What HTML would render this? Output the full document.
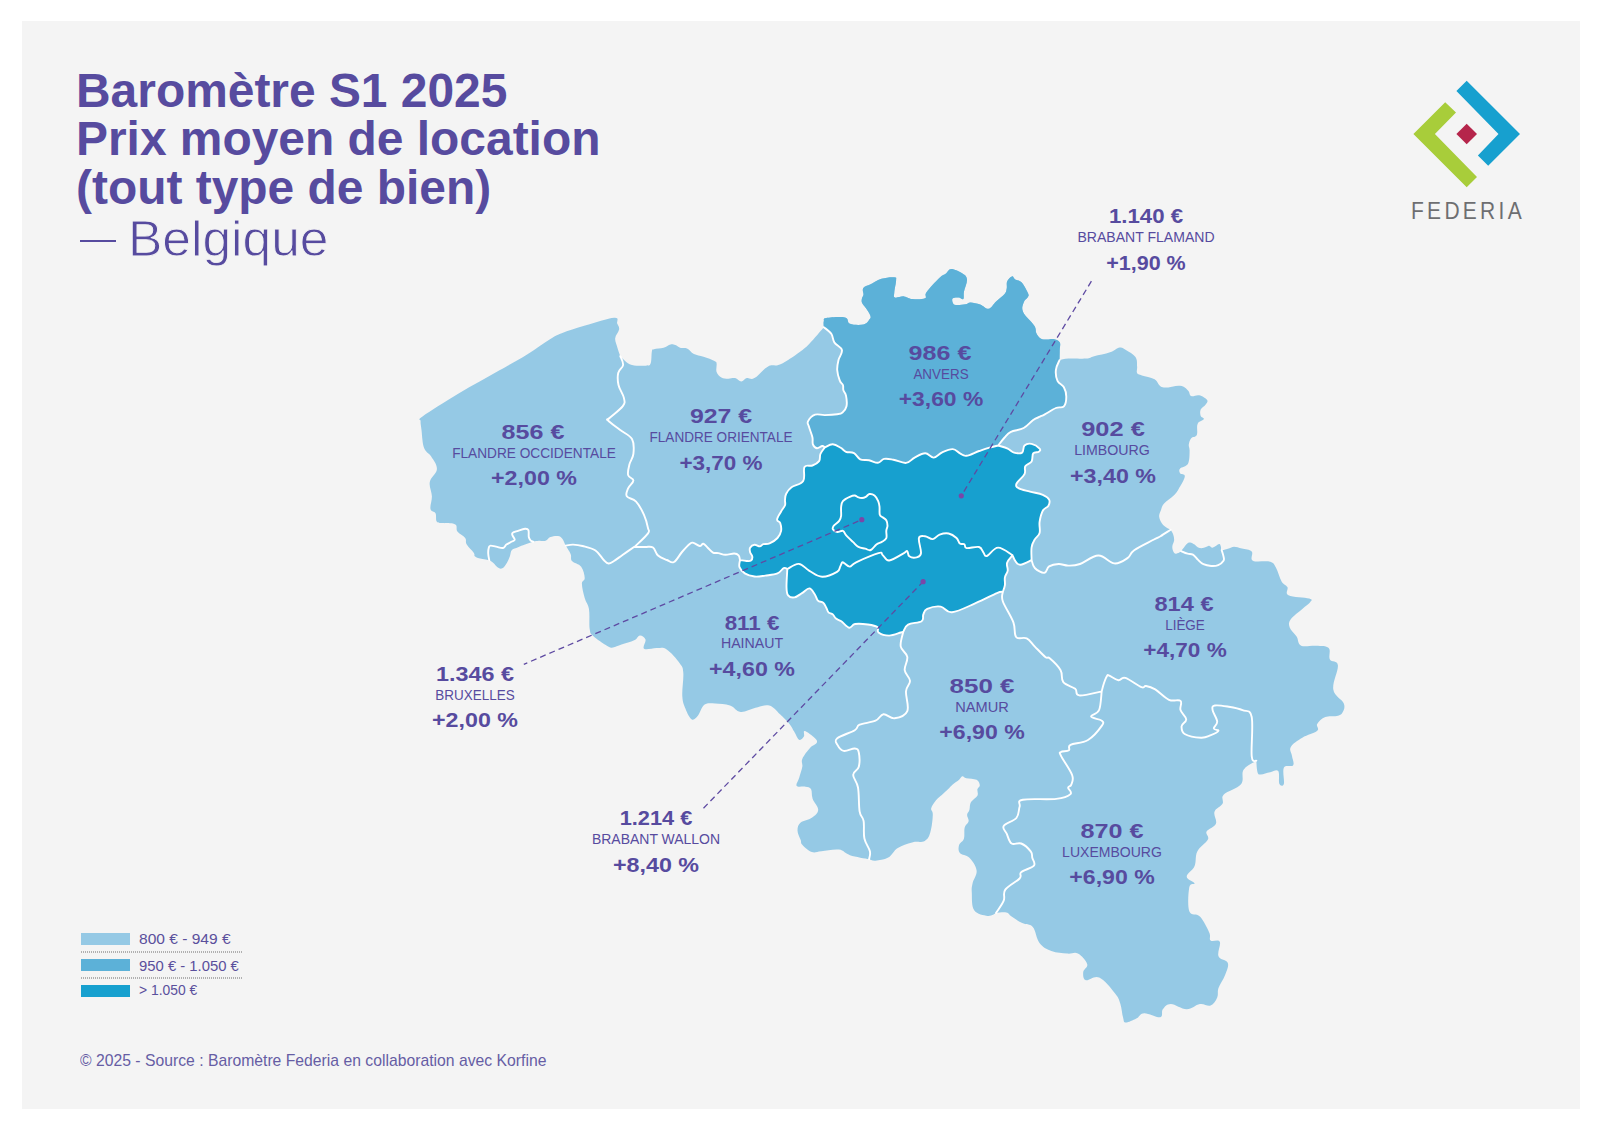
<!DOCTYPE html>
<html><head><meta charset="utf-8">
<style>
html,body{margin:0;padding:0;background:#fff;}
body{width:1600px;height:1131px;position:relative;overflow:hidden;font-family:"Liberation Sans",sans-serif;color:#574b9f;}
#panel{position:absolute;left:22px;top:21px;width:1558px;height:1088px;background:#f4f4f4;}
.t{position:absolute;width:400px;text-align:center;white-space:nowrap;transform-origin:50% 50%;}
.title{position:absolute;left:75.8px;white-space:nowrap;font-weight:700;transform-origin:0 50%;transform:scaleX(0.998);}
svg{position:absolute;left:0;top:0;}
.lg{position:absolute;left:139px;white-space:nowrap;font-size:14px;line-height:14px;transform-origin:0 50%;color:#5a4f9c;}
.sw{position:absolute;left:81px;width:49px;height:12px;}
.dot{position:absolute;left:81px;width:162px;height:1.6px;background:repeating-linear-gradient(90deg,#b0b0b0 0 1px,transparent 1px 2px);}
</style></head><body>
<div id="panel"></div>
<div class="title" style="top:66.6px;font-size:48px;line-height:48px;">Baromètre S1 2025</div>
<div class="title" style="top:115.4px;font-size:48px;line-height:48px;">Prix moyen de location</div>
<div class="title" style="top:164.0px;font-size:48px;line-height:48px;">(tout type de bien)</div>
<div style="position:absolute;left:80px;top:240px;width:36px;height:2px;background:#574b9f"></div>
<div class="title" style="left:128px;top:213.7px;font-size:50px;line-height:50px;font-weight:400;transform:scaleX(1.03);-webkit-text-stroke:0.9px #f4f4f4;">Belgique</div>

<svg width="1600" height="1131" viewBox="0 0 1600 1131">
<path d="M620.3 356.1C621.2 357 623 359.3 625.1 360.9C627.2 362.5 628.2 364.1 632 365C635.8 365.9 642.3 366 645.7 365.7C649.1 365.4 649.5 366.3 650.6 363.6C651.7 360.9 651.3 353.8 651.9 351.2C652.5 348.6 651.9 349.8 654 349.2C656.1 348.6 660.6 348.7 663.6 347.8C666.6 346.9 668.4 344.9 670.5 344.4C672.6 343.9 673.5 344.5 675.3 345.1C677.1 345.7 678 347.2 680.1 347.8C682.2 348.4 684.5 347.4 687 348.5C689.5 349.6 690.9 352.5 693.9 354C696.9 355.5 699.7 355.4 703.5 356.7C707.3 358 712.1 359.6 714.5 360.9C716.9 362.2 716.2 361.6 716.6 363.6C717 365.6 715.7 369.4 716.6 371.9C717.5 374.4 719.3 376.2 721.4 377.4C723.5 378.6 725.7 378.6 728.2 378.7C730.7 378.8 732.7 377.6 735.1 378.1C737.5 378.6 739.2 381.5 741.3 381.5C743.4 381.5 744.4 378.7 746.8 378.1C749.2 377.5 750.5 380.2 754.4 378.1C758.3 376 763.3 368.9 768.1 366.4C772.9 363.9 774.7 367 780.5 364.3C786.3 361.6 794.4 355.7 799.7 351.9C805 348.1 805 348.2 809.4 343.7C813.8 339.2 821.2 330.2 823.8 327.2C823.8 326.1 823.3 323 823.8 321.3C824.3 319.6 822.4 318.8 826.3 318.1C830.2 317.4 840.7 316.5 845 317.5C849.3 318.5 846.6 322.5 850 323.8C853.4 325.1 859.9 325.3 863.5 324.5C867.1 323.7 868.3 320.9 869.5 319.3C870.7 317.7 871 317.6 870.3 315.5C869.6 313.4 867.3 310.3 865.8 308C864.3 305.7 862.7 304.6 862 302.8C861.3 301 861.7 299.8 862 298.3C862.3 296.8 863.4 296 863.5 294.5C863.6 293 862.7 291.4 862.8 290C862.9 288.6 863.1 288 864.3 287C865.5 286 866.3 286.3 869.5 284.8C872.7 283.3 877 280.2 881.5 278.8C886 277.4 891.6 277 894.3 277.3C897 277.6 896.1 277.6 896.1 280.3C896.1 283.1 894.5 289.1 894.3 292.3C894.1 295.5 893.2 296.7 895 297.5C896.8 298.3 900.8 296.1 904 296.4C907.2 296.7 908.4 298.7 912.3 299C916.1 299.3 922.4 299.5 925 298.3C927.6 297.1 923.9 296 926.5 292.3C929.1 288.6 935.7 281.4 939.3 278C942.9 274.6 943.8 275.1 946 273.5C948.2 271.9 948.3 269 951.3 269C954.3 269 959.6 271.6 962.5 273.5C965.4 275.4 966.7 276.2 967 279.5C967.3 282.8 964.7 287.9 964 291.5C963.3 295.1 964.3 297.9 963.3 299C962.3 300.1 960.7 297.6 958.8 297.5C956.9 297.4 953.9 297.3 952.8 298.3C951.7 299.3 952.2 301.6 952.8 302.8C953.3 304 953.5 304.7 955.8 305C958.1 305.3 962.8 304.8 965.5 304.3C968.2 303.8 967.9 302.3 970.6 302.4C973.3 302.5 976.9 303.4 980.2 304.6C983.5 305.8 985.7 309.4 988.6 308.8C991.5 308.2 993.2 304.1 996.1 301.4C999 298.7 1002.7 296.3 1004.6 294C1006.5 291.7 1006.2 290.9 1006.7 288.6C1007.2 286.3 1006.2 283.4 1007.2 281.2C1008.2 279 1010.5 276.7 1012 276.4C1013.5 276.1 1013.5 278.5 1015.2 279.6C1016.9 280.7 1019.2 279.9 1021.5 282.3C1023.8 284.7 1026.7 290.2 1027.9 292.9C1029.1 295.6 1028.7 295.4 1027.9 297.1C1027.1 298.8 1024.6 299.7 1023.7 302.4C1022.8 305.1 1021.2 307.7 1023.1 312C1025 316.3 1031.9 321.9 1034.3 325.8C1036.7 329.7 1035.2 330.9 1036.4 333.2C1037.6 335.5 1038.7 337.3 1040.6 338.5C1042.5 339.7 1044.7 339.5 1047 339.6C1049.3 339.7 1051.1 338.5 1053.4 339C1055.7 339.5 1058.5 340.1 1059.7 342.2C1060.9 344.3 1059.7 346.9 1059.7 350.2C1059.7 353.5 1059.5 358.4 1059.5 360.2C1061.2 359.9 1063.7 358.9 1068.6 358.6C1073.5 358.3 1081.5 359 1086.2 358.6C1090.9 358.2 1089.7 357.5 1094.1 356.3C1098.5 355.1 1105.3 353.9 1110 352.3C1114.7 350.7 1116.7 347.9 1119.6 347.5C1122.5 347.1 1123 348.1 1125.9 349.9C1128.8 351.7 1133.4 354 1135.5 357.1C1137.6 360.2 1136.8 363.7 1137.1 366.6C1137.4 369.5 1136.2 371.4 1137.1 373C1138 374.6 1138.7 374.2 1141.9 375.4C1145.1 376.6 1150.8 377.1 1154.6 379.3C1158.4 381.5 1157.9 386.1 1162.6 387.3C1167.3 388.5 1175.4 385.1 1180.1 385.7C1184.8 386.3 1186 388.6 1188 390.5C1190 392.4 1189.1 395.2 1191.2 396.1C1193.3 397 1196.3 394.6 1199.2 395.3C1202.1 396 1205.9 398.3 1207.1 400C1208.3 401.7 1206.7 403 1205.5 404.8C1204.3 406.6 1201.6 407.6 1200.7 409.6C1199.8 411.6 1200.1 414.2 1200.7 415.9C1201.3 417.6 1204.5 417.6 1203.9 419.1C1203.3 420.6 1198.9 421 1197.6 423.9C1196.3 426.8 1198 432.4 1196.8 435C1195.6 437.6 1192.7 436.4 1191.2 438.2C1189.7 440 1189.1 442.3 1188.8 444.6C1188.5 446.9 1189.7 447.5 1189.6 451C1189.5 454.5 1189.7 460.5 1188 463.7C1186.3 466.9 1181.5 466.8 1180.1 468.5C1178.7 470.2 1179.2 471.8 1180.1 473.2C1181 474.6 1185.1 473.5 1184.8 476.4C1184.5 479.3 1180.5 485.7 1178.5 489.2C1176.5 492.7 1176.3 492.9 1173.7 495.5C1171.1 498.1 1166.4 500.8 1164.1 503.5C1161.8 506.2 1161.9 507.5 1161 510C1160.1 512.5 1158.8 514.3 1159.2 517C1159.6 519.7 1161 522.6 1163.1 524.9C1165.2 527.2 1169.2 528.8 1170.6 529.7C1171.1 530.6 1172.6 532.5 1173.2 534.5C1173.8 536.5 1174.3 538.4 1174.1 540.6C1173.9 542.8 1172.4 544.6 1172.3 546.7C1172.2 548.8 1172.9 550.7 1173.6 552C1174.3 553.3 1174.8 553.9 1176.2 553.7C1177.6 553.5 1179.2 552.9 1181.1 551.1C1183 549.3 1185 545.7 1186.7 544.1C1188.4 542.5 1188.8 542.3 1190.2 542.4C1191.6 542.5 1193.2 543.7 1194.6 544.6C1196 545.5 1196.3 546.6 1197.7 547.2C1199.1 547.8 1200.7 548.3 1202.5 548.1C1204.3 547.9 1206.4 546.7 1207.7 546.3C1209 545.9 1208.5 545.7 1209.5 545.9C1210.5 546.1 1211.2 547.9 1213 547.6C1214.8 547.3 1217.7 544.3 1219.1 544.1C1220.5 543.9 1220.4 545.6 1220.9 546.7C1221.4 547.8 1220.3 549.9 1221.7 550.2C1223.1 550.5 1226.4 549.1 1228.7 548.5C1231 547.9 1231.6 546.7 1234 546.7C1236.4 546.7 1238.7 547.6 1241.9 548.5C1245.1 549.4 1249.7 549.3 1251.7 551.5C1253.7 553.7 1249.5 558.8 1252.9 560.7C1256.3 562.6 1265.9 560.5 1270.1 561.8C1274.3 563.1 1273.8 564 1275.9 567.6C1278 571.2 1279.5 577.8 1281.6 581.4C1283.7 585 1286.1 584.6 1287.4 587.1C1288.7 589.6 1284.5 593.1 1288.5 595.2C1292.5 597.3 1305.2 597.3 1309.2 598.6C1313.2 599.9 1311.6 600.2 1310.3 602.1C1309 604 1305.9 605.8 1302.3 609C1298.7 612.2 1293.1 615.9 1290.8 619.3C1288.5 622.7 1288.6 624.2 1289.7 627.4C1290.8 630.6 1294.5 633.2 1296.6 636.6C1298.7 640 1297.5 644 1301.1 645.7C1304.7 647.4 1311 645.3 1316.1 645.7C1321.2 646.1 1326.2 645.5 1328.7 648C1331.2 650.5 1328.2 656.3 1329.9 659.5C1331.6 662.7 1337.3 659.8 1337.9 665.3C1338.5 670.8 1332.2 682.5 1333.3 689.4C1334.4 696.3 1342 699 1343.7 703.2C1345.4 707.4 1343.8 710.1 1342.5 712.4C1341.2 714.7 1340 715.1 1336.8 715.9C1333.6 716.7 1328.9 715.5 1325.3 717C1321.7 718.5 1318.7 721.4 1317.2 723.9C1315.7 726.4 1319.9 728.3 1317.2 730.8C1314.5 733.3 1307.1 734.7 1302.3 737.7C1297.5 740.7 1292.7 743.5 1290.8 746.9C1288.9 750.3 1291.6 752.7 1292 756.1C1292.4 759.5 1294.6 763.2 1293.1 765.3C1291.6 767.4 1285.6 764.2 1283.9 767.6C1282.2 771 1284.7 780.7 1283.9 783.7C1283.1 786.7 1280.3 786 1279.3 783.7C1278.3 781.4 1279.9 773.1 1278.2 771C1276.5 768.9 1273.3 771.6 1270.1 772.2C1266.9 772.8 1263.2 774.5 1260.9 774.5C1258.6 774.5 1258.3 774.7 1257.5 772.2C1256.7 769.7 1256.5 762.8 1256.3 760.7C1254 762.4 1246.4 765.4 1243.6 769.7C1240.8 774 1244.6 779.7 1241 784.2C1237.4 788.7 1227.2 790.9 1223.8 794.5C1220.4 798.1 1224.2 800.6 1222.5 803.8C1220.8 807 1215.7 808.1 1214.5 811.7C1213.3 815.3 1217.3 820.1 1215.9 823.7C1214.5 827.3 1208.1 828.7 1206.6 831.6C1205.1 834.5 1209.6 836 1207.9 839.6C1206.2 843.2 1199.7 846.6 1197.3 851.5C1194.9 856.4 1196.5 861.5 1194.6 866.1C1192.7 870.7 1186.7 873.5 1186.7 876.7C1186.7 879.9 1194.1 881.4 1194.6 883.3C1195.1 885.2 1190.3 882.2 1189.3 887.3C1188.3 892.4 1187.4 905.8 1189.3 911.2C1191.2 916.6 1196.3 912.6 1199.9 916.5C1203.5 920.4 1207.2 928 1209.2 932.4C1211.2 936.8 1208.7 938.7 1210.6 940.4C1212.5 942.1 1218.4 938.8 1219.8 941.7C1221.2 944.6 1217 952.4 1218.5 956.3C1220 960.2 1226.6 959.5 1227.8 962.9C1229 966.3 1226.8 970.3 1225.1 974.9C1223.4 979.5 1219.9 984 1218.5 988.1C1217.1 992.2 1218.6 994.2 1217.2 997.4C1215.8 1000.6 1213.8 1004.2 1210.6 1005.4C1207.4 1006.6 1204.3 1003.3 1199.9 1004C1195.5 1004.7 1192 1009.3 1186.7 1009.3C1181.4 1009.3 1175.2 1004 1170.8 1004C1166.4 1004 1164.7 1006.9 1162.8 1009.3C1160.9 1011.7 1163.6 1016.6 1160.2 1017.3C1156.8 1018 1148.6 1013.1 1144.2 1013.3C1139.8 1013.5 1139.7 1016.9 1136.3 1018.6C1132.9 1020.3 1128.1 1022.8 1125.7 1022.6C1123.3 1022.4 1124 1020.7 1123 1017.3C1122 1013.9 1121.8 1008.4 1120.4 1004C1119 999.6 1119 998.3 1115.1 993.4C1111.2 988.5 1104.6 979.9 1099.2 977.5C1093.8 975.1 1088.8 981.2 1085.9 980.2C1083 979.2 1083 975.1 1083.2 972.2C1083.4 969.3 1088.2 967.6 1087.2 964.2C1086.2 960.8 1081.5 955.5 1077.9 953.6C1074.3 951.7 1072.2 954.1 1067.3 953.6C1062.4 953.1 1056.5 952.9 1051.4 951C1046.3 949.1 1042.9 947.4 1039.5 943C1036.1 938.6 1036 930.7 1032.8 927.1C1029.6 923.5 1026.1 925 1022.2 923.1C1018.3 921.2 1014.5 918.4 1011.6 916.5C1008.7 914.6 1009.2 913.1 1006.3 912.5C1003.4 911.9 997.9 912.9 996 913C994.5 913.5 991.7 916.4 987.7 915.9C983.7 915.4 977.1 914.5 974.2 910.3C971.3 906.1 972.1 897.8 971.8 892.8C971.5 887.8 971.7 887.3 972.6 883.2C973.5 879.1 977.2 875.2 976.6 870.5C976 865.8 972.5 861 969.4 857.8C966.3 854.6 961.8 855.3 959.9 853C958 850.7 958.4 847.6 959.1 845C959.8 842.4 962.9 841.9 963.9 838.7C964.9 835.5 963.8 830.7 964.7 827.5C965.6 824.3 968.2 823.5 968.6 821.2C969 818.9 967 816.9 967.1 814.8C967.2 812.7 968.7 812.3 969.4 810C970.1 807.7 969.5 804.7 971 802.1C972.5 799.5 976.2 798 977.4 795.7C978.6 793.4 977 791.2 977.4 789.3C977.8 787.4 979.9 787.1 979.8 785.4C979.7 783.7 979.1 781.1 976.6 779.8C974.1 778.5 968.9 778.8 966.3 778.2C963.7 777.6 963.6 776 962.3 776.3C961 776.6 960.9 778.3 959.1 779.8C957.3 781.3 954.7 782.9 952.7 784.6C950.7 786.3 950 787.4 948 789.3C946 791.2 944 792.9 941.8 794.9C939.6 796.9 937.9 797.9 936 800.3C934.1 802.7 931.8 805.6 931.2 808.2C930.6 810.8 932.9 810.2 932.8 814.6C932.7 819 931.9 827.3 930.4 832.1C928.9 836.9 928.2 839 924.8 840.9C921.4 842.8 917.1 841.1 912.1 842.4C907.1 843.7 902.2 845.2 897.8 848C893.4 850.8 892.3 855.3 888.2 857.6C884.1 859.9 879 860.4 875.5 860.7C872 861 870.3 859.5 869.1 859.2C865.6 858.5 855.5 857 850 855.2C844.5 853.4 844.1 850.3 838.9 849.6C833.7 848.9 826.4 850.8 821.4 851.2C816.4 851.6 815.3 853.2 811.8 852C808.3 850.8 804.3 847 802.3 844.8C800.3 842.6 801.6 842.7 800.7 840.1C799.8 837.5 797.5 833.7 797.5 830.5C797.5 827.3 798.1 824.9 800.7 822.6C803.3 820.3 808.6 820.1 811.8 817.8C815 815.5 818.1 813.3 818.2 809.8C818.3 806.3 813.9 802.5 812.6 798.7C811.3 794.9 812.3 791.3 811 789.1C809.7 786.9 808.1 787.3 805.5 786.7C802.9 786.1 797.9 787.6 796.7 786C795.5 784.4 798.1 781.5 799.1 778C800.1 774.5 801.7 770.3 802.3 766.8C802.9 763.3 800.9 762.4 802.3 758.9C803.7 755.4 807.6 750.6 810.2 747.7C812.8 744.8 815.7 744.7 816.6 743C817.5 741.3 817.2 740.4 815 738.2C812.8 736 806.7 731.3 804.7 731C802.7 730.7 804.9 735 803.9 736.6C802.9 738.2 800.9 740.7 799.1 739.8C797.3 738.9 796.1 734.7 794.3 731.8C792.5 728.9 792.1 727.1 789.5 723.9C786.9 720.7 783.7 717.7 780 714.3C776.3 710.9 773.8 706.8 769.3 705.6C764.8 704.4 760.8 706.5 755.5 707.7C750.2 708.9 745.3 712.4 740.6 712C735.9 711.6 734.7 707.2 730 705.6C725.3 704 719.9 703.7 715.2 703.5C710.5 703.3 707.7 702.5 704.6 704.6C701.5 706.7 700.5 712.5 698.2 715.2C695.9 717.9 694.1 720.6 691.8 719.4C689.5 718.2 687.2 713.1 685.5 708.8C683.8 704.5 682.7 702.7 682.3 696.1C681.9 689.5 683.8 678.8 683.3 672.7C682.8 666.6 682.5 667.3 679.5 663C676.5 658.7 670.9 652.2 666.7 649.5C662.5 646.8 660.9 648.2 656.8 648.1C652.7 648 646.2 650.4 644.1 648.8C642 647.2 646.3 642.1 645.5 639.6C644.7 637.1 642 635.3 639.9 635.4C637.8 635.5 637.6 638.6 634.2 640.3C630.8 642 625.4 643.3 621.5 644.6C617.6 645.9 615.6 647.1 613 647.4C610.4 647.7 610.9 648.1 607.3 646C603.7 643.9 596.4 639.2 593.2 636.1C590 633 590.5 633.9 589.7 629C588.9 624.1 589.9 614.9 589 609.2C588.1 603.5 586 602.6 584.7 597.9C583.4 593.2 581.9 587.3 581.9 583.7C581.9 580.1 584.8 581.2 584.7 578.1C584.6 575 583.5 569.9 581.2 566.8C578.9 563.7 573.9 563.4 572 561.1C570.1 558.8 571.8 556.8 570.6 554C569.4 551.2 566.5 547.1 565.6 545.6C565.5 545.3 565.5 545.2 564.9 543.9C564.3 542.6 563.4 539.8 562.1 538.4C560.8 537 560.1 536.3 558 536C555.9 535.7 552.7 536.1 550.4 537C548.1 537.9 547.7 540.1 545.6 540.8C543.5 541.5 541.1 540.6 538.8 540.8C536.5 541 535.8 541.1 533.3 541.8C530.8 542.5 527.8 543.6 525 544.6C522.2 545.6 520.5 546.3 518.1 547.3C515.7 548.3 513.4 548.5 511.9 550.1C510.4 551.8 510.8 554 509.9 556.3C509 558.6 508.5 560.2 507.1 562.4C505.7 564.6 504.1 567.4 502.3 568.3C500.5 569.2 499.1 568.3 497.5 567.3C495.9 566.3 494.9 564.4 493.4 563.1C491.9 561.8 492 561.3 489.3 560.4C486.6 559.5 481.6 559.1 478.9 558.3C476.2 557.5 475.8 557.3 474.8 556.3C473.8 555.3 475.2 555 473.7 552.8C472.2 550.6 468.2 547 466.6 544.3C465 541.6 466.9 540.2 465.2 537.9C463.5 535.6 459.2 534 457.4 531.5C455.6 529 457.8 526 455.3 524.5C452.8 523 447.4 523.6 444 523.1C440.6 522.6 438.5 523.5 436.9 521.7C435.3 519.9 436.7 515.5 435.5 513.2C434.3 510.9 431.2 512 430.5 508.9C429.8 505.8 432 501.1 431.9 496.2C431.8 491.3 428.9 486.9 429.8 482C430.7 477.1 436.6 474 436.9 469.3C437.2 464.6 433.5 460.5 431.2 456.6C428.9 452.7 425.9 453 424.1 448.1C422.3 443.2 422.1 435 421.5 430C420.9 425 420.4 423.5 420.6 421C420.8 418.5 415.5 421.5 422.5 416.5C429.5 411.5 444.5 402.1 458.6 393.6C472.7 385.1 487 377.4 499.5 370.3C512 363.2 517.4 360.4 526.7 354.7C536 349 543.6 343.1 550 339.2C556.4 335.3 555.3 335.8 561.7 333.3C568.1 330.8 575.5 328.4 585.1 325.6C594.7 322.8 608.3 318.2 614.2 317.8C620.1 317.4 616.3 321.5 617.2 323.6C618.1 325.7 619.5 326.8 619.1 329.5C618.7 332.2 615.5 335 615.2 338.2C614.9 341.4 616.3 343.7 617.2 347C618.1 350.3 619.7 354.4 620.3 356.1Z" fill="#95c9e5"/>
<path d="M823.8 327.2C823.8 326.1 823.3 323 823.8 321.3C824.3 319.6 822.4 318.8 826.3 318.1C830.2 317.4 840.7 316.5 845 317.5C849.3 318.5 846.6 322.5 850 323.8C853.4 325.1 859.9 325.3 863.5 324.5C867.1 323.7 868.3 320.9 869.5 319.3C870.7 317.7 871 317.6 870.3 315.5C869.6 313.4 867.3 310.3 865.8 308C864.3 305.7 862.7 304.6 862 302.8C861.3 301 861.7 299.8 862 298.3C862.3 296.8 863.4 296 863.5 294.5C863.6 293 862.7 291.4 862.8 290C862.9 288.6 863.1 288 864.3 287C865.5 286 866.3 286.3 869.5 284.8C872.7 283.3 877 280.2 881.5 278.8C886 277.4 891.6 277 894.3 277.3C897 277.6 896.1 277.6 896.1 280.3C896.1 283.1 894.5 289.1 894.3 292.3C894.1 295.5 893.2 296.7 895 297.5C896.8 298.3 900.8 296.1 904 296.4C907.2 296.7 908.4 298.7 912.3 299C916.1 299.3 922.4 299.5 925 298.3C927.6 297.1 923.9 296 926.5 292.3C929.1 288.6 935.7 281.4 939.3 278C942.9 274.6 943.8 275.1 946 273.5C948.2 271.9 948.3 269 951.3 269C954.3 269 959.6 271.6 962.5 273.5C965.4 275.4 966.7 276.2 967 279.5C967.3 282.8 964.7 287.9 964 291.5C963.3 295.1 964.3 297.9 963.3 299C962.3 300.1 960.7 297.6 958.8 297.5C956.9 297.4 953.9 297.3 952.8 298.3C951.7 299.3 952.2 301.6 952.8 302.8C953.3 304 953.5 304.7 955.8 305C958.1 305.3 962.8 304.8 965.5 304.3C968.2 303.8 967.9 302.3 970.6 302.4C973.3 302.5 976.9 303.4 980.2 304.6C983.5 305.8 985.7 309.4 988.6 308.8C991.5 308.2 993.2 304.1 996.1 301.4C999 298.7 1002.7 296.3 1004.6 294C1006.5 291.7 1006.2 290.9 1006.7 288.6C1007.2 286.3 1006.2 283.4 1007.2 281.2C1008.2 279 1010.5 276.7 1012 276.4C1013.5 276.1 1013.5 278.5 1015.2 279.6C1016.9 280.7 1019.2 279.9 1021.5 282.3C1023.8 284.7 1026.7 290.2 1027.9 292.9C1029.1 295.6 1028.7 295.4 1027.9 297.1C1027.1 298.8 1024.6 299.7 1023.7 302.4C1022.8 305.1 1021.2 307.7 1023.1 312C1025 316.3 1031.9 321.9 1034.3 325.8C1036.7 329.7 1035.2 330.9 1036.4 333.2C1037.6 335.5 1038.7 337.3 1040.6 338.5C1042.5 339.7 1044.7 339.5 1047 339.6C1049.3 339.7 1051.1 338.5 1053.4 339C1055.7 339.5 1058.5 340.1 1059.7 342.2C1060.9 344.3 1059.7 346.9 1059.7 350.2C1059.7 353.5 1059.5 358.4 1059.5 360.2C1058.8 362 1056.3 366 1055.9 369.8C1055.5 373.6 1056 377.7 1057.5 380.9C1059 384.1 1062.3 384.4 1063.9 387.3C1065.5 390.2 1066.3 393.3 1066.3 396.8C1066.3 400.3 1065.8 404.3 1063.9 406.4C1062 408.5 1059.4 406.5 1055.9 408C1052.4 409.5 1047.7 412.8 1044.8 414.4C1041.9 416 1042.1 415.7 1040 416.7C1037.9 417.7 1036.2 417.9 1033.2 420C1030.2 422.1 1027.8 425.8 1023.7 428C1019.6 430.2 1014.4 430.2 1010.9 431.9C1007.4 433.6 1006.9 435 1004.6 437.5C1002.3 440 999.4 444 998.2 445.5C996.4 445.9 992.1 446.9 988.6 447.9C985.1 448.9 983.2 449.6 979.1 451C975 452.4 969.9 455.4 966.4 455.8C962.9 456.2 962.5 454.6 960 453.4C957.5 452.2 956.1 449.3 952.8 449.1C949.5 448.9 945.7 450.7 942.2 452.3C938.7 453.9 936.8 457.4 933.7 457.6C930.6 457.8 928.7 453.3 925.2 453.3C921.7 453.3 918.1 455.8 914.6 457.6C911.1 459.4 910 462.5 906.1 462.9C902.2 463.3 897.4 460.4 893.4 459.7C889.4 459 886.9 458.3 884.1 458.9C881.3 459.5 880.7 462.6 877.9 462.8C875.1 463 872.2 460.8 869 460.2C865.8 459.6 863 460.6 860.2 459.3C857.5 458 856.6 454.5 854 453.1C851.4 451.7 848.4 452.8 846 451.8C843.6 450.8 843.1 449.2 840.7 447.8C838.3 446.4 835.7 444.4 832.8 444.3C829.9 444.2 826.3 446.8 824.8 447.4C824.3 447.1 823.6 445.9 822.2 446C820.8 446.1 818.6 448.5 816.9 448.2C815.2 447.9 813.7 446.3 812.9 444.3C812.1 442.3 813.1 440.4 812.4 437.2C811.7 434 809.7 429.5 808.9 426.6C808.1 423.7 806.9 423.5 808 421.3C809.1 419.1 812 415.8 815.1 414.7C818.2 413.6 820.7 415.2 824.8 415.1C828.9 415 834 414.7 837.2 414.2C840.4 413.7 840.8 413.8 842.5 412.4C844.2 411 845.9 409.4 846.5 406.3C847.1 403.2 846.6 398.5 846 395.6C845.4 392.7 844 392.2 843.4 390.3C842.8 388.4 843.6 386.8 842.9 385C842.2 383.2 840.8 383.4 839.8 380.6C838.8 377.9 837.4 373.8 837.2 370C837 366.2 837.6 363.7 838.5 360C839.4 356.3 842.7 353.2 841.9 350C841.1 346.8 836.3 345.5 834.4 342.5C832.5 339.5 833.2 336.6 831.3 333.8C829.4 331 825.2 328.4 823.8 327.2Z" fill="#5cb1d8"/>
<path d="M824.8 447.4C826.3 446.8 829.9 444.2 832.8 444.3C835.7 444.4 838.3 446.4 840.7 447.8C843.1 449.2 843.6 450.8 846 451.8C848.4 452.8 851.4 451.7 854 453.1C856.6 454.5 857.5 458 860.2 459.3C863 460.6 865.8 459.6 869 460.2C872.2 460.8 875.1 463 877.9 462.8C880.7 462.6 881.3 459.5 884.1 458.9C886.9 458.3 889.4 459 893.4 459.7C897.4 460.4 902.2 463.3 906.1 462.9C910 462.5 911.1 459.4 914.6 457.6C918.1 455.8 921.7 453.3 925.2 453.3C928.7 453.3 930.6 457.8 933.7 457.6C936.8 457.4 938.7 453.9 942.2 452.3C945.7 450.7 949.5 448.9 952.8 449.1C956.1 449.3 957.5 452.2 960 453.4C962.5 454.6 962.9 456.2 966.4 455.8C969.9 455.4 975 452.4 979.1 451C983.2 449.6 985.1 448.9 988.6 447.9C992.1 446.9 996.4 445.9 998.2 445.5C999.9 446.1 1004.8 447.3 1007.7 448.6C1010.6 449.9 1011.5 451.9 1014.1 452.6C1016.7 453.3 1020.2 453.9 1022.1 452.6C1024 451.3 1022.8 447.1 1024.5 445.5C1026.2 443.9 1028.8 443.3 1031.6 443.9C1034.4 444.5 1038.3 447.2 1039.6 448.6C1040.9 450 1040 450.9 1038.8 451.8C1037.6 452.7 1034.5 451.6 1033.2 453.4C1031.9 455.2 1033 459.1 1031.6 461.4C1030.2 463.7 1026.6 463.9 1025.3 466.2C1024 468.5 1026.1 470.9 1024.5 474.1C1022.9 477.3 1017.5 481.1 1016.5 483.7C1015.5 486.3 1016.4 487 1018.9 488.4C1021.4 489.8 1025.6 490.4 1030 491.6C1034.4 492.8 1039.3 493.3 1042.8 494.8C1046.3 496.3 1048.1 497.6 1049.1 499.6C1050.1 501.6 1049.5 503.9 1048.3 505.9C1047.1 507.9 1044.4 507.8 1042.8 510.7C1041.2 513.6 1040.2 517.8 1039.6 521.9C1039 526 1040.5 529.8 1039.6 533C1038.7 536.2 1036.3 536.8 1034.8 539.4C1033.3 542 1032.2 543.5 1031.6 547.3C1031 551.1 1031.6 557.8 1031.6 560.1C1029.6 561 1023.4 564.5 1020.5 564.8C1017.6 565.1 1017.2 563.4 1015.7 561.7C1014.2 560 1013.1 556.5 1012.5 555.3C1009.9 553.9 1002.8 547.5 998.1 547.6C993.4 547.7 989.6 555.1 986.9 556C984.2 556.9 984.9 554.2 983.5 552.6C982.1 551 982.1 547.8 979 547C975.9 546.2 969.3 548.6 966.6 548.1C963.9 547.6 965.6 545 964.4 544.2C963.2 543.4 961.3 544.7 959.9 543.6C958.5 542.5 958.6 539.9 956.5 538C954.4 536.1 951.7 534.1 948.6 533.5C945.5 532.9 942.5 533.6 939.6 534.6C936.7 535.6 935.6 538.8 932.9 539.1C930.2 539.4 927.6 536.5 925 536.3C922.4 536.1 919.6 535.1 918.9 538.2C918.2 541.3 921.4 549.6 921 553.1C920.6 556.6 918.8 556.7 916.7 557.3C914.6 557.9 911 557.5 909.3 556.3C907.6 555.1 908.2 551.6 907.2 551C906.2 550.4 907.3 551.4 904 553.1C900.7 554.8 893.1 560.1 889.2 560.5C885.3 560.9 884.8 556.6 882.8 555.2C880.8 553.8 883.4 551.8 878.5 553.1C873.6 554.4 861.4 559.8 856.1 562.3C850.8 564.8 851.9 566.4 849.8 566.6C847.7 566.8 845.9 564.2 844.5 563.4C843.1 562.6 843.1 561.7 842.3 562.3C841.5 562.9 841.2 564.8 840.2 566.6C839.2 568.4 840.3 570 837 571.9C833.7 573.8 827.2 576.9 822.1 576.7C817 576.5 813.7 573.1 809.4 570.8C805.1 568.5 802.9 564.2 798.8 563.9C794.7 563.6 789.4 568.1 787.3 569C786.6 568.8 785.5 567.3 783.7 568.1C781.9 568.9 780.9 572 777.5 573.4C774.1 574.8 769.4 575 765.2 575.6C761 576.2 758.2 576.9 754.5 576.5C750.8 576.1 747.5 575.1 744.8 573.4C742 571.7 740.4 569.6 739.5 567.2C738.6 564.8 739.9 561.4 740 560.1C741.2 560.3 744.6 560.9 746.6 561C748.6 561.1 750 561.4 751 560.6C752 559.8 752.5 558.1 752.3 556.6C752.1 555.1 750.5 553.8 750.1 552.2C749.7 550.6 749.3 549.1 750.1 547.7C750.9 546.3 752.7 544.9 754.5 544.7C756.3 544.5 758.2 546.5 759.8 546.4C761.4 546.3 761.6 544.8 763.4 544.2C765.2 543.6 767 544.4 769.6 543.3C772.2 542.2 775.4 540.3 777.5 538C779.6 535.7 780.6 533.6 781.1 530.9C781.6 528.1 780.9 525.1 780.2 523C779.5 520.9 776.9 521.6 777.1 519.5C777.3 517.4 779.7 514.1 781.1 511.5C782.5 508.9 784.3 507.4 785 505.3C785.7 503.2 784.8 502.1 785 500C785.2 497.9 785 496 786.2 493.7C787.4 491.4 788.4 489.6 791.5 487.3C794.6 485 800.8 484.6 803.2 480.9C805.6 477.2 802.8 469.8 804.5 467C806.2 464.2 809.7 466.6 812.4 465.5C815.1 464.4 817.6 463.2 819.1 461.1C820.6 459 819.4 456.5 820.4 454C821.4 451.5 824 448.6 824.8 447.4Z" fill="#17a0cf"/>
<path d="M787.3 569C789.4 568.1 794.7 563.6 798.8 563.9C802.9 564.2 805.1 568.5 809.4 570.8C813.7 573.1 817 576.5 822.1 576.7C827.2 576.9 833.7 573.8 837 571.9C840.3 570 839.2 568.4 840.2 566.6C841.2 564.8 841.5 562.9 842.3 562.3C843.1 561.7 843.1 562.6 844.5 563.4C845.9 564.2 847.7 566.8 849.8 566.6C851.9 566.4 850.8 564.8 856.1 562.3C861.4 559.8 873.6 554.4 878.5 553.1C883.4 551.8 880.8 553.8 882.8 555.2C884.8 556.6 885.3 560.9 889.2 560.5C893.1 560.1 900.7 554.8 904 553.1C907.3 551.4 906.2 550.4 907.2 551C908.2 551.6 907.6 555.1 909.3 556.3C911 557.5 914.6 557.9 916.7 557.3C918.8 556.7 920.6 556.6 921 553.1C921.4 549.6 918.2 541.3 918.9 538.2C919.6 535.1 922.4 536.1 925 536.3C927.6 536.5 930.2 539.4 932.9 539.1C935.6 538.8 936.7 535.6 939.6 534.6C942.5 533.6 945.5 532.9 948.6 533.5C951.7 534.1 954.4 536.1 956.5 538C958.6 539.9 958.5 542.5 959.9 543.6C961.3 544.7 963.2 543.4 964.4 544.2C965.6 545 963.9 547.6 966.6 548.1C969.3 548.6 975.9 546.2 979 547C982.1 547.8 982.1 551 983.5 552.6C984.9 554.2 984.2 556.9 986.9 556C989.6 555.1 993.4 547.7 998.1 547.6C1002.8 547.5 1009.9 553.9 1012.5 555.3C1011.5 556.7 1008 559.9 1007.1 562.7C1006.2 565.5 1008.1 567.9 1007.7 570.6C1007.3 573.3 1005.4 574.7 1004.9 577.4C1004.4 580.1 1005.3 582.5 1004.9 585.2C1004.5 587.9 1003.2 590.7 1002.8 591.9C1001.7 592.1 1002 591 997 593.1C992 595.2 983.9 599.7 975.6 603.2C967.4 606.7 958.4 611.6 952 612.2C945.6 612.8 945.2 607.2 940.7 606.6C936.2 606 930.4 607.5 927.2 608.9C924 610.3 924.3 612.2 923.3 614.5C922.3 616.8 924.4 619.3 921.6 621.2C918.8 623.1 911.5 622.7 908.1 624.6C904.7 626.5 904.2 630.4 903.3 631.7C902.8 631.8 903.4 631.8 900.8 632.5C898.2 633.2 893.2 635.6 889.1 635.6C885 635.6 880.6 634.1 878.5 632.5C876.4 630.9 879.4 628.6 877.4 627.1C875.4 625.6 871.9 625.1 867.8 624.5C863.7 623.9 858.5 623.4 855.1 624C851.7 624.6 851.7 628.2 849.2 627.7C846.7 627.2 843.7 623 841.3 621.3C838.9 619.6 837.6 619.9 836 618.6C834.4 617.3 834.2 615.6 832.8 614.4C831.4 613.2 829.7 613.5 828.5 612.3C827.3 611.1 827.4 609.8 826.4 608C825.4 606.2 824.8 604.1 823.2 602.7C821.6 601.3 819.5 602.2 817.9 600.6C816.3 599 816.3 596.4 814.7 594.2C813.1 592 811.7 588.6 809.4 588.4C807.1 588.2 804.7 591.5 802 593.1C799.3 594.8 797 597 794.5 597.4C792 597.8 789.6 597.2 788.1 595.3C786.6 593.4 786.6 591.6 786.5 586.8C786.4 582 787.2 572.3 787.3 569Z" fill="#17a0cf"/>
<path d="M842.9 501.1C844.5 499.2 847.6 497.8 849.8 496.8C852 495.8 853.2 495.4 854.7 495.5C856.2 495.6 856.4 496.6 857.8 497.1C859.2 497.6 860.6 498.1 862.1 498C863.6 497.9 864.4 497.5 865.8 496.8C867.2 496.1 868 494.2 869.6 494C871.2 493.8 872.9 494.2 874.5 495.5C876.1 496.8 877.3 499 878.2 501.1C879.1 503.2 879.2 504.2 879.5 506.7C879.8 509.2 879.2 512.8 879.8 514.7C880.4 516.6 881.4 516.2 882.6 517.2C883.8 518.2 885.4 518.7 886.3 520.3C887.2 521.9 887.5 523.9 887.5 525.8C887.5 527.7 886.5 528.5 886.3 530.8C886.1 533.1 887.1 536.2 886.3 538.2C885.5 540.2 883.7 540.8 881.9 541.9C880.1 543 878.4 542.9 876.4 544.4C874.4 545.9 872.9 549.2 870.8 550C868.7 550.8 867.5 549.3 865.2 548.7C862.9 548.1 860.7 548.1 858.4 546.9C856.1 545.7 855.2 544.1 852.9 541.9C850.6 539.7 847.8 537.1 846 535.1C844.2 533.1 844.5 531.4 842.9 530.8C841.3 530.2 839.2 532.2 837.4 532C835.6 531.8 833.7 530.7 833 529.6C832.3 528.5 832.6 527.4 833.7 525.8C834.8 524.2 837.8 522.7 839.2 520.9C840.6 519.1 840.8 518.4 841.1 515.9C841.4 513.4 840.8 510 841.1 507.3C841.4 504.6 841.3 503 842.9 501.1Z" fill="#17a0cf" stroke="#fff" stroke-width="1.9"/>
<path d="M620.3 356.1C620.8 357.7 623.5 361.9 623.1 365C622.7 368.1 619 369.3 618.2 373C617.4 376.7 617.5 380.4 618.5 385C619.5 389.6 623.1 394 623.9 397.9C624.7 401.8 625.4 402.4 622.8 406.1C620.2 409.8 612.2 415.3 609.5 418C606.8 420.7 606.2 418.5 608.2 420.7C610.2 422.9 615.8 426.6 620.2 430C624.6 433.4 629.7 434.9 632.1 439.3C634.5 443.7 633.9 449.2 633.4 453.8C632.9 458.4 630.4 460.6 629.4 464.5C628.4 468.4 627.4 472.2 628.1 475.1C628.8 478 633.4 478 633.4 480.4C633.4 482.8 629.3 485.4 628.1 488.3C626.9 491.2 625.3 493.9 626.8 496.3C628.3 498.7 632.9 498.2 636.1 501.6C639.3 505 641.8 510 644 514.9C646.2 519.8 647.3 524.7 648 528.1C648.7 531.5 650.2 530.2 648 533.4C645.8 536.6 638.7 542.9 636.1 545.4C633.5 547.9 634.4 546.7 634 547 M565.6 545.6C567 545.4 570 544.5 573.1 544.6C576.2 544.7 578.4 544.9 582.5 546C586.6 547.1 591.6 547.9 595.5 550.5C599.4 553.1 601.3 557.6 603.7 560C606.1 562.4 606.6 563.3 608.5 563.5C610.4 563.7 611.4 562.6 614 561C616.6 559.4 618.8 557.6 622.5 555C626.2 552.4 631.9 548.5 634 547 M634 547C636 547 641.5 546.9 645 547C648.5 547.1 650.6 545.9 653 547.5C655.4 549.1 655.4 553.2 658 555.5C660.6 557.8 664.1 558.8 667 560C669.9 561.2 671.2 563.5 674 562C676.8 560.5 679.1 555.3 682 552C684.9 548.7 687.9 545.5 690 543.8C692.1 542.1 691.7 542.5 693.5 542.9C695.3 543.3 697.9 545.8 699.7 546C701.5 546.2 701.8 543.5 703.3 543.8C704.8 544.1 705.9 546.1 707.7 547.7C709.5 549.3 711.1 551.6 713 552.6C714.9 553.6 716 552.7 718.3 553.1C720.6 553.5 722.5 554.7 725.4 554.8C728.3 554.9 731.8 553.4 734.2 553.5C736.6 553.6 737.5 554.1 738.6 555.3C739.7 556.5 739.7 559.2 740 560.1 M823.8 327.2C825.2 328.4 829.4 331 831.3 333.8C833.2 336.6 832.5 339.5 834.4 342.5C836.3 345.5 841.1 346.8 841.9 350C842.7 353.2 839.4 356.3 838.5 360C837.6 363.7 837 366.2 837.2 370C837.4 373.8 838.8 377.9 839.8 380.6C840.8 383.4 842.2 383.2 842.9 385C843.6 386.8 842.8 388.4 843.4 390.3C844 392.2 845.4 392.7 846 395.6C846.6 398.5 847.1 403.2 846.5 406.3C845.9 409.4 844.2 411 842.5 412.4C840.8 413.8 840.4 413.7 837.2 414.2C834 414.7 828.9 415 824.8 415.1C820.7 415.2 818.2 413.6 815.1 414.7C812 415.8 809.1 419.1 808 421.3C806.9 423.5 808.1 423.7 808.9 426.6C809.7 429.5 811.7 434 812.4 437.2C813.1 440.4 812.1 442.3 812.9 444.3C813.7 446.3 815.2 447.9 816.9 448.2C818.6 448.5 820.8 446.1 822.2 446C823.6 445.9 824.3 447.1 824.8 447.4 M824.8 447.4C824 448.6 821.4 451.5 820.4 454C819.4 456.5 820.6 459 819.1 461.1C817.6 463.2 815.1 464.4 812.4 465.5C809.7 466.6 806.2 464.2 804.5 467C802.8 469.8 805.6 477.2 803.2 480.9C800.8 484.6 794.6 485 791.5 487.3C788.4 489.6 787.4 491.4 786.2 493.7C785 496 785.2 497.9 785 500C784.8 502.1 785.7 503.2 785 505.3C784.3 507.4 782.5 508.9 781.1 511.5C779.7 514.1 777.3 517.4 777.1 519.5C776.9 521.6 779.5 520.9 780.2 523C780.9 525.1 781.6 528.1 781.1 530.9C780.6 533.6 779.6 535.7 777.5 538C775.4 540.3 772.2 542.2 769.6 543.3C767 544.4 765.2 543.6 763.4 544.2C761.6 544.8 761.4 546.3 759.8 546.4C758.2 546.5 756.3 544.5 754.5 544.7C752.7 544.9 750.9 546.3 750.1 547.7C749.3 549.1 749.7 550.6 750.1 552.2C750.5 553.8 752.1 555.1 752.3 556.6C752.5 558.1 752 559.8 751 560.6C750 561.4 748.6 561.1 746.6 561C744.6 560.9 741.2 560.3 740 560.1 M824.8 447.4C826.3 446.8 829.9 444.2 832.8 444.3C835.7 444.4 838.3 446.4 840.7 447.8C843.1 449.2 843.6 450.8 846 451.8C848.4 452.8 851.4 451.7 854 453.1C856.6 454.5 857.5 458 860.2 459.3C863 460.6 865.8 459.6 869 460.2C872.2 460.8 875.1 463 877.9 462.8C880.7 462.6 881.3 459.5 884.1 458.9C886.9 458.3 889.4 459 893.4 459.7C897.4 460.4 902.2 463.3 906.1 462.9C910 462.5 911.1 459.4 914.6 457.6C918.1 455.8 921.7 453.3 925.2 453.3C928.7 453.3 930.6 457.8 933.7 457.6C936.8 457.4 938.7 453.9 942.2 452.3C945.7 450.7 949.5 448.9 952.8 449.1C956.1 449.3 957.5 452.2 960 453.4C962.5 454.6 962.9 456.2 966.4 455.8C969.9 455.4 975 452.4 979.1 451C983.2 449.6 985.1 448.9 988.6 447.9C992.1 446.9 996.4 445.9 998.2 445.5 M1059.5 360.2C1058.8 362 1056.3 366 1055.9 369.8C1055.5 373.6 1056 377.7 1057.5 380.9C1059 384.1 1062.3 384.4 1063.9 387.3C1065.5 390.2 1066.3 393.3 1066.3 396.8C1066.3 400.3 1065.8 404.3 1063.9 406.4C1062 408.5 1059.4 406.5 1055.9 408C1052.4 409.5 1047.7 412.8 1044.8 414.4C1041.9 416 1042.1 415.7 1040 416.7C1037.9 417.7 1036.2 417.9 1033.2 420C1030.2 422.1 1027.8 425.8 1023.7 428C1019.6 430.2 1014.4 430.2 1010.9 431.9C1007.4 433.6 1006.9 435 1004.6 437.5C1002.3 440 999.4 444 998.2 445.5 M998.2 445.5C999.9 446.1 1004.8 447.3 1007.7 448.6C1010.6 449.9 1011.5 451.9 1014.1 452.6C1016.7 453.3 1020.2 453.9 1022.1 452.6C1024 451.3 1022.8 447.1 1024.5 445.5C1026.2 443.9 1028.8 443.3 1031.6 443.9C1034.4 444.5 1038.3 447.2 1039.6 448.6C1040.9 450 1040 450.9 1038.8 451.8C1037.6 452.7 1034.5 451.6 1033.2 453.4C1031.9 455.2 1033 459.1 1031.6 461.4C1030.2 463.7 1026.6 463.9 1025.3 466.2C1024 468.5 1026.1 470.9 1024.5 474.1C1022.9 477.3 1017.5 481.1 1016.5 483.7C1015.5 486.3 1016.4 487 1018.9 488.4C1021.4 489.8 1025.6 490.4 1030 491.6C1034.4 492.8 1039.3 493.3 1042.8 494.8C1046.3 496.3 1048.1 497.6 1049.1 499.6C1050.1 501.6 1049.5 503.9 1048.3 505.9C1047.1 507.9 1044.4 507.8 1042.8 510.7C1041.2 513.6 1040.2 517.8 1039.6 521.9C1039 526 1040.5 529.8 1039.6 533C1038.7 536.2 1036.3 536.8 1034.8 539.4C1033.3 542 1032.2 543.5 1031.6 547.3C1031 551.1 1031.6 557.8 1031.6 560.1 M1031.6 560.1C1032.2 561.5 1032.5 565.7 1034.8 568C1037.1 570.3 1041.8 573.1 1044.4 572.8C1047 572.5 1046.5 568 1049.1 566.4C1051.7 564.8 1055.2 564.1 1058.7 564C1062.2 563.9 1064.3 565.6 1068.2 565.6C1072.1 565.6 1074.5 565.9 1080 564C1085.5 562.1 1092.1 555.6 1098.4 555.5C1104.7 555.4 1109 562.9 1114.3 563.4C1119.6 563.9 1123.9 560.5 1127.5 558.1C1131.1 555.7 1129.3 553.6 1134.2 550.2C1139.1 546.8 1149.2 542.1 1154 539.5C1158.8 536.9 1157.5 538 1160.5 536.2C1163.5 534.4 1168.7 530.9 1170.6 529.7 M1031.6 560.1C1029.6 561 1023.4 564.5 1020.5 564.8C1017.6 565.1 1017.2 563.4 1015.7 561.7C1014.2 560 1013.1 556.5 1012.5 555.3 M787.3 569C789.4 568.1 794.7 563.6 798.8 563.9C802.9 564.2 805.1 568.5 809.4 570.8C813.7 573.1 817 576.5 822.1 576.7C827.2 576.9 833.7 573.8 837 571.9C840.3 570 839.2 568.4 840.2 566.6C841.2 564.8 841.5 562.9 842.3 562.3C843.1 561.7 843.1 562.6 844.5 563.4C845.9 564.2 847.7 566.8 849.8 566.6C851.9 566.4 850.8 564.8 856.1 562.3C861.4 559.8 873.6 554.4 878.5 553.1C883.4 551.8 880.8 553.8 882.8 555.2C884.8 556.6 885.3 560.9 889.2 560.5C893.1 560.1 900.7 554.8 904 553.1C907.3 551.4 906.2 550.4 907.2 551C908.2 551.6 907.6 555.1 909.3 556.3C911 557.5 914.6 557.9 916.7 557.3C918.8 556.7 920.6 556.6 921 553.1C921.4 549.6 918.2 541.3 918.9 538.2C919.6 535.1 922.4 536.1 925 536.3C927.6 536.5 930.2 539.4 932.9 539.1C935.6 538.8 936.7 535.6 939.6 534.6C942.5 533.6 945.5 532.9 948.6 533.5C951.7 534.1 954.4 536.1 956.5 538C958.6 539.9 958.5 542.5 959.9 543.6C961.3 544.7 963.2 543.4 964.4 544.2C965.6 545 963.9 547.6 966.6 548.1C969.3 548.6 975.9 546.2 979 547C982.1 547.8 982.1 551 983.5 552.6C984.9 554.2 984.2 556.9 986.9 556C989.6 555.1 993.4 547.7 998.1 547.6C1002.8 547.5 1009.9 553.9 1012.5 555.3 M740 560.1C739.9 561.4 738.6 564.8 739.5 567.2C740.4 569.6 742 571.7 744.8 573.4C747.5 575.1 750.8 576.1 754.5 576.5C758.2 576.9 761 576.2 765.2 575.6C769.4 575 774.1 574.8 777.5 573.4C780.9 572 781.9 568.9 783.7 568.1C785.5 567.3 786.6 568.8 787.3 569 M787.3 569C787.2 572.3 786.4 582 786.5 586.8C786.6 591.6 786.6 593.4 788.1 595.3C789.6 597.2 792 597.8 794.5 597.4C797 597 799.3 594.8 802 593.1C804.7 591.5 807.1 588.2 809.4 588.4C811.7 588.6 813.1 592 814.7 594.2C816.3 596.4 816.3 599 817.9 600.6C819.5 602.2 821.6 601.3 823.2 602.7C824.8 604.1 825.4 606.2 826.4 608C827.4 609.8 827.3 611.1 828.5 612.3C829.7 613.5 831.4 613.2 832.8 614.4C834.2 615.6 834.4 617.3 836 618.6C837.6 619.9 838.9 619.6 841.3 621.3C843.7 623 846.7 627.2 849.2 627.7C851.7 628.2 851.7 624.6 855.1 624C858.5 623.4 863.7 623.9 867.8 624.5C871.9 625.1 875.4 625.6 877.4 627.1C879.4 628.6 876.4 630.9 878.5 632.5C880.6 634.1 885 635.6 889.1 635.6C893.2 635.6 898.2 633.2 900.8 632.5C903.4 631.8 902.8 631.8 903.3 631.7 M903.3 631.7C904.2 630.4 904.7 626.5 908.1 624.6C911.5 622.7 918.8 623.1 921.6 621.2C924.4 619.3 922.3 616.8 923.3 614.5C924.3 612.2 924 610.3 927.2 608.9C930.4 607.5 936.2 606 940.7 606.6C945.2 607.2 945.6 612.8 952 612.2C958.4 611.6 967.4 606.7 975.6 603.2C983.9 599.7 992 595.2 997 593.1C1002 591 1001.7 592.1 1002.8 591.9 M1012.5 555.3C1011.5 556.7 1008 559.9 1007.1 562.7C1006.2 565.5 1008.1 567.9 1007.7 570.6C1007.3 573.3 1005.4 574.7 1004.9 577.4C1004.4 580.1 1005.3 582.5 1004.9 585.2C1004.5 587.9 1003.2 590.7 1002.8 591.9 M1002.8 591.9C1002.8 593.6 1000.9 595.6 1002.8 601.2C1004.7 606.8 1011 615.8 1013.4 622.4C1015.8 629 1013.7 634.1 1016.1 637C1018.5 639.9 1023.3 636.7 1026.7 638.4C1030.1 640.1 1031.2 642.9 1034.6 646.3C1038 649.7 1042.5 654.7 1045.3 656.9C1048.1 659.1 1047.2 656.1 1050 658.5C1052.8 660.9 1058.2 665.9 1060.6 670.2C1063 674.5 1060.6 678.7 1063.3 682.1C1066 685.5 1072.3 686.4 1075.2 688.8C1078.1 691.2 1074.3 694.9 1079.2 695.4C1084.1 695.9 1097.6 692.1 1101.7 691.4 M1101.7 691.4C1102.1 689.9 1103 685.8 1104 683C1105 680.2 1106 677.4 1107 676C1108 674.6 1107.1 674.8 1109.2 675.6C1111.3 676.4 1115.4 679.8 1118.4 680.2C1121.4 680.6 1121.1 676.6 1125.3 677.9C1129.5 679.2 1137.6 685.6 1141.4 687.1C1145.2 688.6 1143.5 685.6 1146 686C1148.5 686.4 1151 686.9 1155.2 689.4C1159.4 691.9 1164.4 697.7 1169 699.8C1173.6 701.9 1178.4 699 1180.5 700.9C1182.6 702.8 1179.5 706.7 1180.5 710.1C1181.5 713.5 1186 716.3 1186.2 719.3C1186.4 722.3 1181.8 723.5 1181.6 726.2C1181.4 729 1181.5 732.2 1185.1 734.3C1188.7 736.4 1196.5 737.5 1201.1 737.7C1205.7 737.9 1207.1 736.7 1210.3 735.4C1213.5 734.1 1217.8 732.1 1218.4 730.8C1219 729.5 1214 730.2 1213.8 728.5C1213.6 726.8 1217.4 725 1217.2 721.6C1217 718.2 1213 713.1 1212.6 710.1C1212.2 707.1 1211.9 706.1 1214.9 705.5C1217.9 704.9 1223.6 705.9 1228.7 706.7C1233.8 707.5 1238.3 708.2 1242.5 710.1C1246.7 712 1250 708.6 1251.7 717C1253.4 725.4 1250.9 748.1 1251.7 756.1C1252.5 764.1 1255.5 759.9 1256.3 760.7 M1101.7 691.4C1101.2 694.8 1101 705.4 1099.1 710C1097.2 714.6 1090.6 714.7 1091.1 716.6C1091.6 718.5 1099.8 718.9 1101.7 720.6C1103.6 722.3 1104.2 722.3 1101.7 725.9C1099.2 729.5 1093.7 736.5 1088 740C1082.3 743.5 1074 742.9 1070.5 744.8C1067 746.7 1070.6 749 1068.9 750.3C1067.2 751.6 1062.4 750.9 1061 751.9C1059.6 752.9 1059 751.7 1061 755.9C1063 760.1 1070.2 769.7 1072.1 775C1074 780.3 1072 782.3 1071.3 784.6C1070.6 786.9 1068.2 786 1068.1 787.7C1068 789.4 1072.7 792 1070.5 794.1C1068.3 796.2 1064.9 797.9 1056.2 798.9C1047.5 799.9 1029.5 798.3 1022.8 799.7C1016.1 801.1 1020.8 803.4 1019.6 806.8C1018.4 810.2 1019.3 814.5 1016.4 818C1013.5 821.5 1005.5 823 1003.7 825.9C1001.9 828.8 1005.4 830.7 1006.8 833.9C1008.2 837.1 1009 841.7 1011.6 843.5C1014.2 845.3 1017.7 842.1 1021.2 843.5C1024.7 844.9 1028.7 848.8 1030.7 851.4C1032.7 854 1031.7 855.2 1032.3 857.8C1032.9 860.4 1035.9 863.1 1033.9 865.7C1031.9 868.3 1023.8 869.8 1021.2 872.1C1018.6 874.4 1022.5 875.3 1019.6 878.5C1016.7 881.7 1008.2 885.5 1005.3 889.6C1002.4 893.7 1005.4 896.4 1003.7 900.7C1002 905 997.4 910.7 996 913 M903.3 631.7C902.8 634.4 900 641.7 900.7 646.3C901.4 650.9 906.6 652.5 907.3 656.9C908 661.3 904.2 665.8 904.7 670.2C905.2 674.6 909.8 676.9 910 680.8C910.2 684.7 906.5 685.8 906 691.4C905.5 697 909.4 706.2 907.3 711.1C905.2 716 899 717.7 894.6 718.3C890.2 718.9 887 713.9 883.5 714.3C880 714.7 879.9 718.8 875.5 720.7C871.1 722.6 863.4 723 859.6 724.7C855.8 726.4 858.9 727.7 854.8 730.2C850.7 732.7 840.5 735.6 837.3 738.2C834.1 740.8 836.1 742.3 837.3 744.6C838.5 746.9 840.5 750.2 843.7 750.9C846.9 751.6 852 748.2 854.8 748.5C857.6 748.8 858.1 749.1 858.8 752.5C859.5 755.9 859.8 762.7 858.8 766.8C857.8 770.9 853.3 771 853.2 774.8C853.1 778.6 856.8 780.8 858 787.5C859.2 794.2 858.6 805.3 859.6 811.4C860.6 817.5 862.7 816 863.6 821C864.5 826 863.2 833 864.4 838.5C865.6 844 869 847.4 869.9 851.2C870.8 855 869.2 857.7 869.1 859.2 M1181.1 551.1C1182.3 551.6 1185.4 553.1 1187.6 553.7C1189.8 554.3 1191 553.5 1192.9 554.6C1194.8 555.7 1196.2 558.1 1198.1 559.9C1200 561.7 1201 563.1 1203.4 564.2C1205.8 565.3 1208.5 565.8 1211.2 566C1213.9 566.2 1215.9 566.1 1218.2 565.1C1220.5 564.1 1222.5 562.3 1223.5 560.7C1224.5 559.1 1223.8 558.3 1223.5 556.4C1223.2 554.5 1222 551.3 1221.7 550.2 M489.3 560.4C489.1 559.1 488.3 555.9 488.2 553.5C488.1 551.1 488.5 548.7 488.9 547.3C489.3 545.9 489.3 545.7 490.6 545.6C491.9 545.5 493.8 546.2 496.1 546.6C498.4 547 501.1 548.4 503 548C504.9 547.6 504.9 545.7 506.4 544.6C507.9 543.5 509.8 542.7 511.3 541.8C512.8 540.9 514.5 540.9 514.7 539.8C514.9 538.7 513 536.9 512.6 535.6C512.2 534.3 511.6 533.8 512.6 532.9C513.6 532 515.8 531.6 518.1 530.8C520.4 530 523.1 528.9 525 528.8C526.9 528.7 527.7 528.6 528.4 530.1C529.1 531.6 528.4 535.1 528.8 537C529.2 538.9 529.7 539.5 530.5 540.4C531.3 541.3 532.8 541.5 533.3 541.8" fill="none" stroke="#fff" stroke-width="1.9" stroke-linejoin="round" stroke-linecap="round"/>
<g stroke="#5e4aa2" stroke-width="1.3" stroke-dasharray="6 4" fill="none">
<path d="M523.8 664.3L861.8 519.7" stroke-dashoffset="2.2"/>
<path d="M703.5 808.2L923.1 581.7"/>
<path d="M1091.4 281.2L961.3 495.8"/>
</g>
<g fill="#7a46a8">
<circle cx="861.8" cy="519.7" r="2.6"/><circle cx="923.1" cy="581.7" r="2.6"/><circle cx="961.3" cy="495.8" r="2.6"/>
</g>
<!-- logo -->
<polygon points="1466.7,80.7 1520,134 1488.2,165.8 1477.9,155.5 1498.5,134 1456.4,91" fill="#17a0cf"/>
<polygon points="1413.4,134 1445.2,102.2 1456,112.5 1434.9,134 1477,177 1466.7,187.3" fill="#a8cd3a"/>
<polygon points="1466.7,123.7 1477,134 1466.7,144.3 1456.4,134" fill="#b5254b"/>
</svg>
<div style="position:absolute;left:1411px;top:198.6px;font-size:24.2px;line-height:24.2px;color:#6d6e71;letter-spacing:3.8px;white-space:nowrap;transform:scaleX(0.867);transform-origin:0 50%;">FEDERIA</div>
<div class="t pr" style="left:333.2px;top:420.8px;font-size:21px;line-height:21px;font-weight:700;transform:scaleX(1.194)">856 €</div><div class="t nm" style="left:333.6px;top:446.5px;font-size:13.8px;line-height:13.8px;font-weight:400;transform:scaleX(0.990)">FLANDRE OCCIDENTALE</div><div class="t pc" style="left:333.7px;top:468.0px;font-size:20.5px;line-height:20.5px;font-weight:700;transform:scaleX(1.134)">+2,00 %</div><div class="t pr" style="left:521.1px;top:405.4px;font-size:21px;line-height:21px;font-weight:700;transform:scaleX(1.184)">927 €</div><div class="t nm" style="left:521.2px;top:431.1px;font-size:13.8px;line-height:13.8px;font-weight:400;transform:scaleX(0.983)">FLANDRE ORIENTALE</div><div class="t pc" style="left:521.0px;top:452.6px;font-size:20.5px;line-height:20.5px;font-weight:700;transform:scaleX(1.097)">+3,70 %</div><div class="t pr" style="left:740.4px;top:341.8px;font-size:21px;line-height:21px;font-weight:700;transform:scaleX(1.194)">986 €</div><div class="t nm" style="left:740.5px;top:367.5px;font-size:13.8px;line-height:13.8px;font-weight:400;transform:scaleX(0.973)">ANVERS</div><div class="t pc" style="left:740.6px;top:389.0px;font-size:20.5px;line-height:20.5px;font-weight:700;transform:scaleX(1.115)">+3,60 %</div><div class="t pr" style="left:912.7px;top:418.4px;font-size:21px;line-height:21px;font-weight:700;transform:scaleX(1.210)">902 €</div><div class="t nm" style="left:912.3px;top:444.1px;font-size:13.8px;line-height:13.8px;font-weight:400;transform:scaleX(1.028)">LIMBOURG</div><div class="t pc" style="left:912.7px;top:465.6px;font-size:20.5px;line-height:20.5px;font-weight:700;transform:scaleX(1.134)">+3,40 %</div><div class="t pr" style="left:984.2px;top:592.8px;font-size:21px;line-height:21px;font-weight:700;transform:scaleX(1.124)">814 €</div><div class="t nm" style="left:984.8px;top:618.5px;font-size:13.8px;line-height:13.8px;font-weight:400;transform:scaleX(0.976)">LIÈGE</div><div class="t pc" style="left:984.9px;top:640.0px;font-size:20.5px;line-height:20.5px;font-weight:700;transform:scaleX(1.101)">+4,70 %</div><div class="t pr" style="left:912.4px;top:819.8px;font-size:21px;line-height:21px;font-weight:700;transform:scaleX(1.200)">870 €</div><div class="t nm" style="left:912.4px;top:845.5px;font-size:13.8px;line-height:13.8px;font-weight:400;transform:scaleX(1.017)">LUXEMBOURG</div><div class="t pc" style="left:912.4px;top:867.0px;font-size:20.5px;line-height:20.5px;font-weight:700;transform:scaleX(1.126)">+6,90 %</div><div class="t pr" style="left:782.0px;top:675.0px;font-size:21px;line-height:21px;font-weight:700;transform:scaleX(1.236)">850 €</div><div class="t nm" style="left:781.8px;top:700.7px;font-size:13.8px;line-height:13.8px;font-weight:400;transform:scaleX(1.060)">NAMUR</div><div class="t pc" style="left:781.6px;top:722.2px;font-size:20.5px;line-height:20.5px;font-weight:700;transform:scaleX(1.126)">+6,90 %</div><div class="t pr" style="left:551.9px;top:611.7px;font-size:21px;line-height:21px;font-weight:700;transform:scaleX(1.065)">811 €</div><div class="t nm" style="left:552.0px;top:637.4px;font-size:13.8px;line-height:13.8px;font-weight:400;transform:scaleX(1.025)">HAINAUT</div><div class="t pc" style="left:552.0px;top:658.9px;font-size:20.5px;line-height:20.5px;font-weight:700;transform:scaleX(1.133)">+4,60 %</div><div class="t pr" style="left:274.9px;top:662.9px;font-size:21px;line-height:21px;font-weight:700;transform:scaleX(1.112)">1.346 €</div><div class="t nm" style="left:275.3px;top:688.6px;font-size:13.8px;line-height:13.8px;font-weight:400;transform:scaleX(0.977)">BRUXELLES</div><div class="t pc" style="left:275.3px;top:710.1px;font-size:20.5px;line-height:20.5px;font-weight:700;transform:scaleX(1.134)">+2,00 %</div><div class="t pr" style="left:455.8px;top:807.3px;font-size:21px;line-height:21px;font-weight:700;transform:scaleX(1.037)">1.214 €</div><div class="t nm" style="left:456.2px;top:833.0px;font-size:13.8px;line-height:13.8px;font-weight:400;transform:scaleX(1.012)">BRABANT WALLON</div><div class="t pc" style="left:456.0px;top:854.5px;font-size:20.5px;line-height:20.5px;font-weight:700;transform:scaleX(1.137)">+8,40 %</div><div class="t pr" style="left:945.5px;top:205.4px;font-size:21px;line-height:21px;font-weight:700;transform:scaleX(1.059)">1.140 €</div><div class="t nm" style="left:945.8px;top:231.1px;font-size:13.8px;line-height:13.8px;font-weight:400;transform:scaleX(1.018)">BRABANT FLAMAND</div><div class="t pc" style="left:945.5px;top:252.6px;font-size:20.5px;line-height:20.5px;font-weight:700;transform:scaleX(1.048)">+1,90 %</div>
<div class="sw" style="top:933px;background:#95c9e5"></div>
<div class="sw" style="top:959px;background:#5cb1d8"></div>
<div class="sw" style="top:985px;background:#17a0cf"></div>
<div class="dot" style="top:951px"></div>
<div class="dot" style="top:977px"></div>
<div class="lg" style="top:932.4px;transform:scaleX(1.11)">800 € - 949 €</div>
<div class="lg" style="top:958.5px;transform:scaleX(1.06)">950 € - 1.050 €</div>
<div class="lg" style="top:983.4px;transform:scaleX(0.99)">&gt; 1.050 €</div>
<div style="position:absolute;left:80px;top:1051.5px;font-size:16.2px;line-height:16.2px;white-space:nowrap;transform:scaleX(0.972);transform-origin:0 50%;color:#665da4;">© 2025 - Source : Baromètre Federia en collaboration avec Korfine</div>
</body></html>
